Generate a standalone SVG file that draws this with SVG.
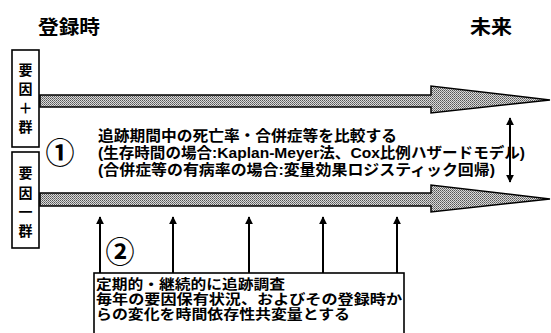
<svg xmlns="http://www.w3.org/2000/svg" width="551" height="333" viewBox="0 0 551 333">
<defs>
<pattern id="dots" width="2" height="2" patternUnits="userSpaceOnUse">
<rect width="2" height="2" fill="#dadada"/>
<rect width="1" height="1" fill="#555"/>
<rect x="1" y="1" width="1" height="1" fill="#7a7a7a"/>
</pattern>
<marker id="ah" viewBox="0 0 10 10" refX="9" refY="5" markerWidth="8" markerHeight="9" markerUnits="userSpaceOnUse" orient="auto-start-reverse">
<path d="M0,0 L10,5 L0,10 z" fill="#000"/>
</marker>
</defs>
<style>
text{font-family:"Noto Sans CJK JP","Noto Sans CJK SC",sans-serif;font-weight:bold;fill:#000}
.tight{font-family:"Liberation Sans","Noto Sans CJK JP","Noto Sans CJK SC",sans-serif}
.title{font-size:19px}
.lbl{font-size:14px;text-anchor:middle}
.box{fill:#fff;stroke:#000;stroke-width:1.6}
.arrow{fill:url(#dots);stroke:#000;stroke-width:1.5;stroke-linejoin:miter}
.note{font-size:15px}
.small{font-size:13.4px}
.mark{font-size:29px;text-anchor:middle}
.conn{stroke:#000;stroke-width:2;fill:none}
</style>
<rect width="551" height="333" fill="#fff"/>

<g id="title-start"><text class="title" x="38" y="34" textLength="62" lengthAdjust="spacingAndGlyphs">登録時</text></g>
<g id="title-future"><text class="title" x="470" y="34" textLength="42" lengthAdjust="spacingAndGlyphs">未来</text></g>

<g id="group-plus">
<rect class="box" x="12" y="50" width="27" height="97"/>
<text class="lbl" x="25.5" y="75">要</text>
<text class="lbl" x="25.5" y="94">因</text>
<text class="lbl" x="25.5" y="113">＋</text>
<text class="lbl" x="25.5" y="132">群</text>
</g>
<g id="group-minus">
<rect class="box" x="12" y="152" width="27" height="96"/>
<text class="lbl" x="25.5" y="178">要</text>
<text class="lbl" x="25.5" y="198">因</text>
<text class="lbl" x="25.5" y="217">一</text>
<text class="lbl" x="25.5" y="236">群</text>
</g>

<g id="arrow-plus"><path class="arrow" d="M40,95 L431,95 L431,86 L550,100 L431,113 L431,107 L40,107 Z"/></g>
<g id="arrow-minus"><path class="arrow" d="M40,193 L431,193 L431,185 L550,199 L431,212 L431,206 L40,206 Z"/></g>

<g id="mark1"><text class="mark" x="60" y="164">①</text></g>
<g id="note-compare">
<text class="note tight" x="98" y="141" textLength="299" lengthAdjust="spacingAndGlyphs">追跡期間中の死亡率・合併症等を比較する</text>
<text class="note tight" x="98" y="158" textLength="427" lengthAdjust="spacingAndGlyphs">(生存時間の場合:Kaplan-Meyer法、Cox比例ハザードモデル)</text>
<text class="note tight" x="98" y="175" textLength="397" lengthAdjust="spacingAndGlyphs">(合併症等の有病率の場合:変量効果ロジスティック回帰)</text>
</g>

<g id="mark2"><text class="mark" x="120" y="263">②</text></g>

<g id="connectors">
<line class="conn" x1="510" y1="150" x2="510" y2="118" marker-end="url(#ah)"/>
<line class="conn" x1="510" y1="150" x2="510" y2="182" marker-end="url(#ah)"/>
<line class="conn" x1="100" y1="274" x2="100" y2="217" marker-end="url(#ah)"/>
<line class="conn" x1="173" y1="274" x2="173" y2="217" marker-end="url(#ah)"/>
<line class="conn" x1="249" y1="274" x2="249" y2="217" marker-end="url(#ah)"/>
<line class="conn" x1="323" y1="274" x2="323" y2="217" marker-end="url(#ah)"/>
<line class="conn" x1="397" y1="274" x2="397" y2="217" marker-end="url(#ah)"/>
</g>

<g id="survey-box">
<rect class="box" x="94" y="273" width="310" height="70"/>
<text class="small tight" x="96" y="289" textLength="189" lengthAdjust="spacingAndGlyphs">定期的・継続的に追跡調査</text>
<text class="small tight" x="96" y="304" textLength="306" lengthAdjust="spacingAndGlyphs">毎年の要因保有状況、およびその登録時か</text>
<text class="small tight" x="96" y="319" textLength="254" lengthAdjust="spacingAndGlyphs">らの変化を時間依存性共変量とする</text>
</g>
</svg>
